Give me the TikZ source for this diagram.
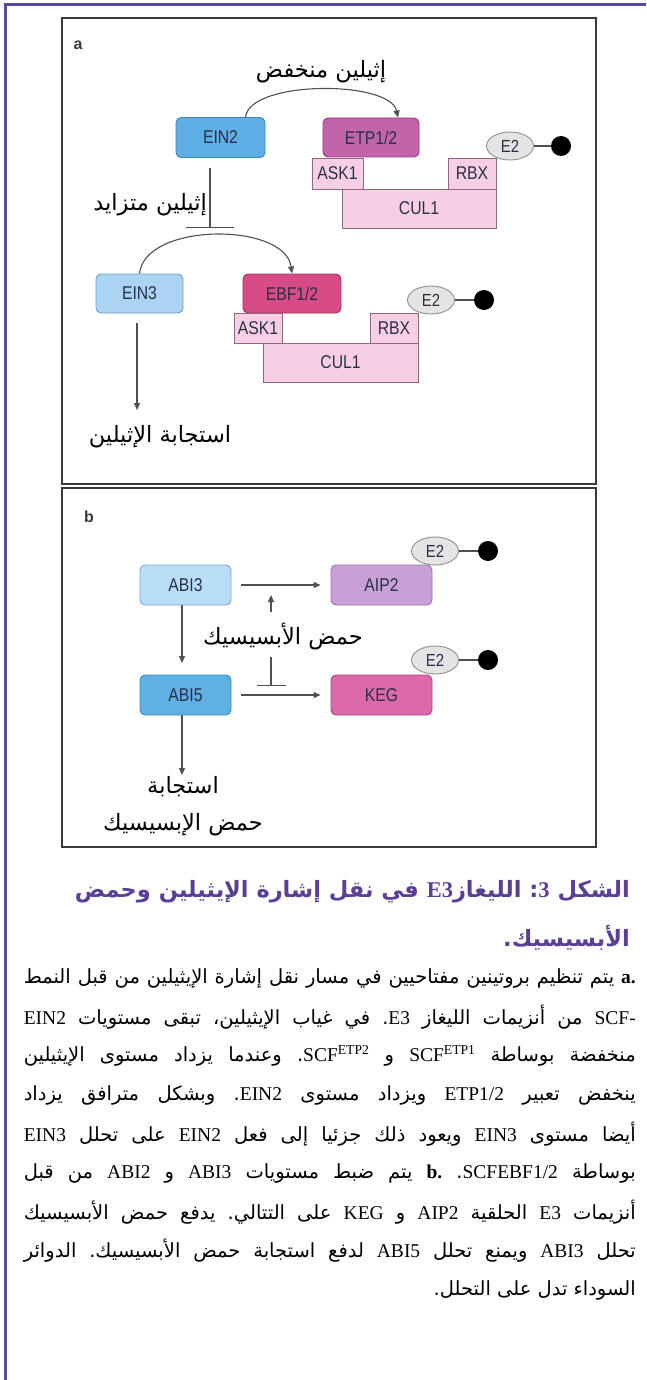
\documentclass[tikz,border=0pt]{standalone}
\usepackage{fontspec}
\setmainfont{Liberation Serif}
\newfontfamily\arabicfont[Script=Arabic]{DejaVu Sans}
\newfontfamily\boxfont[FakeStretch=0.85]{Liberation Sans}
\newfontfamily\latfont{Liberation Serif}
\newfontfamily\panelfont{Liberation Sans}
\TeXXeTstate=1
\frenchspacing
\usetikzlibrary{arrows.meta,shapes.geometric,calc}
\definecolor{framepurple}{HTML}{5B4AA3}
\definecolor{titlepurple}{HTML}{5A3F98}
\definecolor{panelline}{HTML}{3A3A3A}
\definecolor{boxtext}{HTML}{2A3048}
\definecolor{conline}{HTML}{505050}
\definecolor{cEINtwo}{HTML}{5FAFE6}
\definecolor{bEINtwo}{HTML}{3C86BE}
\definecolor{cETP}{HTML}{C364AA}
\definecolor{bETP}{HTML}{9A3C86}
\definecolor{cEINthree}{HTML}{AAD4F2}
\definecolor{bEINthree}{HTML}{6F9FC6}
\definecolor{cEBF}{HTML}{D74B87}
\definecolor{bEBF}{HTML}{A83062}
\definecolor{cABIthree}{HTML}{B8DDF5}
\definecolor{bABIthree}{HTML}{78AAD2}
\definecolor{cAIP}{HTML}{C8A0D7}
\definecolor{bAIP}{HTML}{9A72B0}
\definecolor{cABIfive}{HTML}{5FB0E3}
\definecolor{bABIfive}{HTML}{3A88C0}
\definecolor{cKEG}{HTML}{DC69AA}
\definecolor{bKEG}{HTML}{B04282}
\definecolor{cSub}{HTML}{F7CFE5}
\definecolor{bSub}{HTML}{8A6A7C}
\definecolor{cEtwo}{HTML}{E4E4E4}
\definecolor{bEtwo}{HTML}{8E8E8E}
\newcommand{\artxt}[1]{{\arabicfont\beginR #1\endR}}
\newcommand{\latw}[1]{{\latfont #1}}
\newcommand{\bodyfont}{\arabicfont\fontsize{19.5}{22}\selectfont\frenchspacing}
\tikzset{
  prot/.style={draw, rounded corners=5pt, line width=0.9pt, text=boxtext,
    font=\boxfont\fontsize{18.5}{18.5}\selectfont, inner sep=0pt},
  subbox/.style={draw=bSub, fill=cSub, line width=0.7pt, text=boxtext,
    font=\boxfont\fontsize{18.5}{18.5}\selectfont, inner sep=0pt},
  etwo/.style={ellipse, draw=bEtwo, fill=cEtwo, line width=0.9pt, text=boxtext,
    minimum width=47pt, minimum height=28pt, inner sep=0pt,
    font=\boxfont\fontsize{17.5}{17.5}\selectfont},
  degdot/.style={circle, fill=black, minimum size=20pt, inner sep=0pt},
  con/.style={draw=conline, line width=1.1pt},
  arr/.style={con, -{Triangle[length=7pt,width=6pt]}},
  lab/.style={font=\arabicfont\fontsize{22.5}{26}\selectfont, inner sep=0pt},
  bodyln/.style={anchor=east, inner sep=0pt, font=\bodyfont},
  titleln/.style={anchor=east, inner sep=0pt, text=titlepurple,
    font=\arabicfont\bfseries\fontsize{22.5}{26}\selectfont},
}
\begin{document}
\begin{tikzpicture}[x=1pt,y=-1pt]
\useasboundingbox (0,0) rectangle (646,1380);
\fill[white] (0,0) rectangle (646,1380);
% outer frame
\draw[framepurple, line width=3pt] (5,1380) -- (5,5) -- (646,5);
% panels
\draw[panelline, line width=1.6pt] (62,18) rectangle (596,484);
\draw[panelline, line width=1.6pt] (62,488) rectangle (596,847);
\node[font=\panelfont\bfseries\fontsize{16}{16}\selectfont, text=panelline] (la) at (78,45) {a};
\node[font=\panelfont\bfseries\fontsize{16}{16}\selectfont, text=panelline] (lb) at (89,517) {b};

% ---------- panel a, row 1
\node[prot, fill=cEINtwo, draw=bEINtwo, minimum width=89pt, minimum height=40pt] (EIN2) at (220.5,137.5) {EIN2};
\node[prot, fill=cETP, draw=bETP, minimum width=96pt, minimum height=39pt] (ETP) at (371,137.5) {ETP1/2};
\node[subbox, minimum width=51pt, minimum height=31pt] (ASKa) at (337.5,173.5) {ASK1};
\node[subbox, minimum width=48pt, minimum height=31pt] (RBXa) at (472,173.5) {RBX};
\node[subbox, minimum width=154pt, minimum height=39pt] (CULa) at (419,208.5) {CUL1};
\node[etwo] (E2a) at (510,146) {E2};
\node[degdot] (Da) at (561,146) {};
\draw[con] (E2a) -- (Da);
\node[lab] (lowEth) at (321,72) {\artxt{إثيلين منخفض}};
\draw[arr] ([xshift=25pt]EIN2.north) .. controls (250,80) and (390,80) .. ([xshift=27pt]ETP.north);
\node[lab, anchor=east] (highEth) at (207,205) {\artxt{إثيلين متزايد}};
\coordinate (inhA) at (210,228);
\draw[con, -{Bar[width=48pt,line width=1.3pt]}] ($(EIN2.south -| inhA)+(0,10)$) -- (inhA);

% ---------- panel a, row 2
\node[prot, fill=cEINthree, draw=bEINthree, minimum width=87pt, minimum height=39pt] (EIN3) at (139.5,293.5) {EIN3};
\node[prot, fill=cEBF, draw=bEBF, minimum width=98pt, minimum height=39pt] (EBF) at (292,293.5) {EBF1/2};
\node[subbox, minimum width=48pt, minimum height=30pt] (ASKb) at (258,328) {ASK1};
\node[subbox, minimum width=48pt, minimum height=30pt] (RBXb) at (394,328) {RBX};
\node[subbox, minimum width=155pt, minimum height=39pt] (CULb) at (340.5,362.5) {CUL1};
\node[etwo] (E2b) at (431,300) {E2};
\node[degdot] (Db) at (484,300) {};
\draw[con] (E2b) -- (Db);
\draw[arr] (EIN3.north) .. controls (145,222) and (285,222) .. (EBF.north);
\node[lab] (ethResp) at (160,437) {\artxt{استجابة الإثيلين}};
\coordinate (respTip) at (137,410);
\draw[arr] ($(EIN3.south -| respTip)+(0,10)$) -- (respTip);

% ---------- panel b
\node[prot, fill=cABIthree, draw=bABIthree, minimum width=91pt, minimum height=40pt] (ABI3) at (185.5,585) {ABI3};
\node[prot, fill=cAIP, draw=bAIP, minimum width=101pt, minimum height=40pt] (AIP2) at (381.5,585) {AIP2};
\node[prot, fill=cABIfive, draw=bABIfive, minimum width=91pt, minimum height=40pt] (ABI5) at (185.5,695) {ABI5};
\node[prot, fill=cKEG, draw=bKEG, minimum width=101pt, minimum height=40pt] (KEG) at (381.5,695) {KEG};
\node[etwo] (E2c) at (435,551) {E2};
\node[degdot] (Dc) at (488,551) {};
\draw[con] (E2c) -- (Dc);
\node[etwo] (E2d) at (435,660) {E2};
\node[degdot] (Dd) at (488,660) {};
\draw[con] (E2d) -- (Dd);
\draw[arr, shorten <=10pt, shorten >=10pt] (ABI3) -- (AIP2);
\draw[arr, shorten <=10pt, shorten >=10pt] (ABI5) -- (KEG);
\coordinate (abTip) at (182,663);
\draw[arr] (ABI3.south -| abTip) -- (abTip);
\node[lab] (aba) at (283,637) {\artxt{حمض الأبسيسيك}};
\coordinate (abaUpTip) at (271,595);
\draw[arr] (271,612) -- (abaUpTip);
\coordinate (abaBar) at (271,686);
\draw[con, -{Bar[width=29pt,line width=1.3pt]}] (271,657) -- (abaBar);
\coordinate (abaRespTip) at (182,775);
\draw[arr] (ABI5.south -| abaRespTip) -- (abaRespTip);
\node[lab] (abaRespA) at (183,787) {\artxt{استجابة}};
\node[lab] (abaRespB) at (183,825) {\artxt{حمض الإبسيسيك}};

% ---------- caption
\node[titleln] (t1) at (630,892) {\artxt{الشكل {\latfont\bfseries 3}: الليغاز{\latfont\bfseries E3} في نقل إشارة الإيثيلين وحمض}};
\node[titleln] (t2) at (630,938) {\artxt{الأبسيسيك.}};

\node[bodyln] (b1) at (636,978) {\hbox to 612pt{\beginR{\latfont\bfseries a.} يتم تنظيم بروتينين مفتاحيين في مسار نقل إشارة الإيثيلين من قبل النمط\endR}};
\node[bodyln] (b2) at (636,1017) {\hbox to 612pt{\beginR\latw{SCF-} من أنزيمات الليغاز \latw{E3}. في غياب الإيثيلين، تبقى مستويات \latw{EIN2}\endR}};
\node[bodyln] (b3) at (636,1056) {\hbox to 612pt{\beginR منخفضة بوساطة \beginL\latw{SCF\textsuperscript{ETP1}}\endL{} و \beginL\latw{SCF\textsuperscript{ETP2}}\endL{}. وعندما يزداد مستوى الإيثيلين\endR}};
\node[bodyln] (b4) at (636,1095) {\hbox to 612pt{\beginR ينخفض تعبير \latw{ETP1/2} ويزداد مستوى \latw{EIN2}. وبشكل مترافق يزداد\endR}};
\node[bodyln] (b5) at (636,1134) {\hbox to 612pt{\beginR أيضا مستوى \latw{EIN3} ويعود ذلك جزئيا إلى فعل \latw{EIN2} على تحلل \latw{EIN3}\endR}};
\node[bodyln] (b6) at (636,1173) {\hbox to 612pt{\beginR بوساطة \latw{SCFEBF1/2}. {\latfont\bfseries b.} يتم ضبط مستويات \latw{ABI3} و \latw{ABI2} من قبل\endR}};
\node[bodyln] (b7) at (636,1212) {\hbox to 612pt{\beginR أنزيمات \latw{E3} الحلقية \latw{AIP2} و \latw{KEG} على التتالي. يدفع حمض الأبسيسيك\endR}};
\node[bodyln] (b8) at (636,1251) {\hbox to 612pt{\beginR تحلل \latw{ABI3} ويمنع تحلل \latw{ABI5} لدفع استجابة حمض الأبسيسيك. الدوائر\endR}};
\node[bodyln] (b9) at (636,1290) {\beginR السوداء تدل على التحلل.\endR};
\end{tikzpicture}
\end{document}
